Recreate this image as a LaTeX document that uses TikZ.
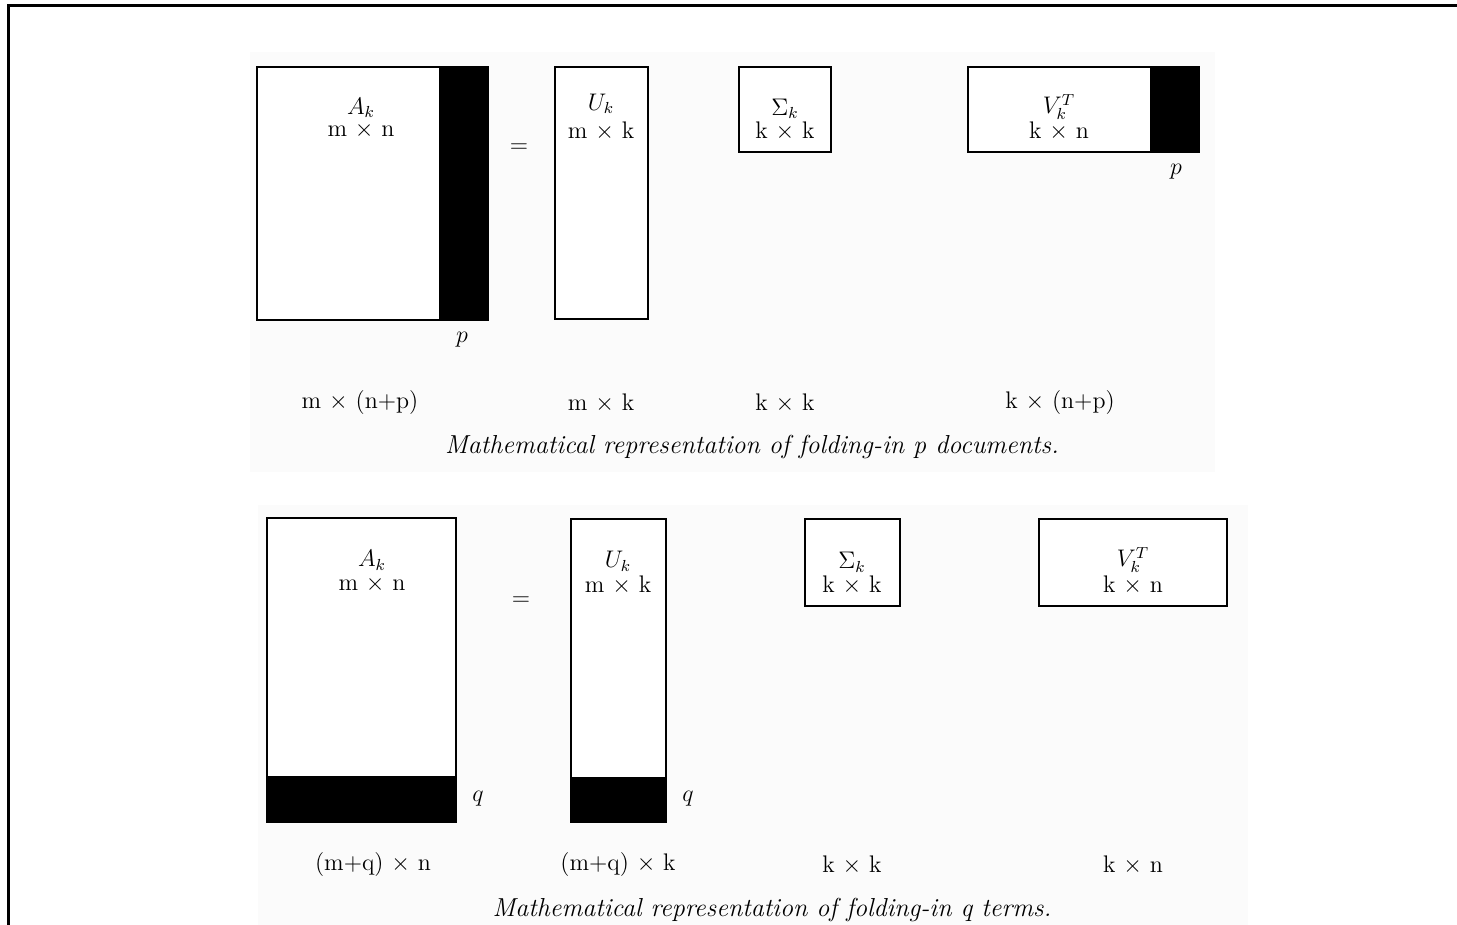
\documentclass[tikz,border=0pt]{standalone}
\begin{document}
\begin{tikzpicture}[x=0.5pt,y=-0.5pt,
  mat/.style={draw=black,line width=1pt,fill=white},
  blk/.style={fill=black,draw=black,line width=1pt},
  lbl/.style={inner sep=0pt,font=\fontsize{12}{14}\selectfont},
  captxt/.style={inner sep=0pt,font=\fontsize{13}{15}\selectfont\itshape}]
\useasboundingbox (0,0) rectangle (1457,925);
\fill[white] (0,0) rectangle (1457,925);
% faint image backgrounds
\fill[black!1.5] (250,52) rectangle (1215,472);
\fill[black!1.5] (258,505) rectangle (1248,925);
% frame
\draw[line width=1.5pt] (1457,6) -- (8,6) -- (8,925);
% ---------- top: folding-in p documents ----------
\draw[mat] (257,67) rectangle (488,320);
\fill[blk] (440,67) rectangle (488,320);
\draw[line width=1pt] (257,67) rectangle (488,320);
\node[lbl] (a1) at (361,108) {$A_k$};
\node[lbl] (a1d) at (361,131) {m $\times$ n};
\node[lbl] (p1) at (462,340) {$p$};
\node[lbl] (eq1) at (519,148) {$=$};
\draw[mat] (555,67) rectangle (648,319);
\node[lbl] (u1) at (601,104) {$U_k$};
\node[lbl] (u1d) at (601,131) {m $\times$ k};
\draw[mat] (739,67) rectangle (831,152);
\node[lbl] (s1) at (785,109) {$\Sigma_k$};
\node[lbl] (s1d) at (785,131) {k $\times$ k};
\draw[mat] (968,67) rectangle (1199,152);
\fill[blk] (1151,67) rectangle (1199,152);
\draw[line width=1pt] (968,67) rectangle (1199,152);
\node[lbl] (v1) at (1059,107) {$V_k^T$};
\node[lbl] (v1d) at (1059,131) {k $\times$ n};
\node[lbl] (p2) at (1176,172) {$p$};
\node[lbl] (d1) at (360,403) {m $\times$ (n+p)};
\node[lbl] (d2) at (601,403) {m $\times$ k};
\node[lbl] (d3) at (785,403) {k $\times$ k};
\node[lbl] (d4) at (1060,403) {k $\times$ (n+p)};
\node[captxt] (c1) at (752,447) {Mathematical representation of folding-in p documents.};
% ---------- bottom: folding-in q terms ----------
\draw[mat] (267,518) rectangle (456,822);
\fill[blk] (267,777) rectangle (456,822);
\draw[line width=1pt] (267,518) rectangle (456,822);
\node[lbl] (a2) at (372,560) {$A_k$};
\node[lbl] (a2d) at (372,584) {m $\times$ n};
\node[lbl] (q1) at (478,799) {$q$};
\node[lbl] (eq2) at (521,601) {$=$};
\draw[mat] (571,519) rectangle (666,822);
\fill[blk] (571,778) rectangle (666,822);
\draw[line width=1pt] (571,519) rectangle (666,822);
\node[lbl] (u2) at (618,561) {$U_k$};
\node[lbl] (u2d) at (618,585) {m $\times$ k};
\node[lbl] (q2) at (688,799) {$q$};
\draw[mat] (805,519) rectangle (900,606);
\node[lbl] (s2) at (852,562) {$\Sigma_k$};
\node[lbl] (s2d) at (852,585) {k $\times$ k};
\draw[mat] (1039,519) rectangle (1227,606);
\node[lbl] (v2) at (1133,560) {$V_k^T$};
\node[lbl] (v2d) at (1133,585) {k $\times$ n};
\node[lbl] (e1) at (373,865) {(m+q) $\times$ n};
\node[lbl] (e2) at (618,865) {(m+q) $\times$ k};
\node[lbl] (e3) at (852,865) {k $\times$ k};
\node[lbl] (e4) at (1133,865) {k $\times$ n};
\node[captxt] (c2) at (772,910) {Mathematical representation of folding-in q terms.};
\end{tikzpicture}
\end{document}
